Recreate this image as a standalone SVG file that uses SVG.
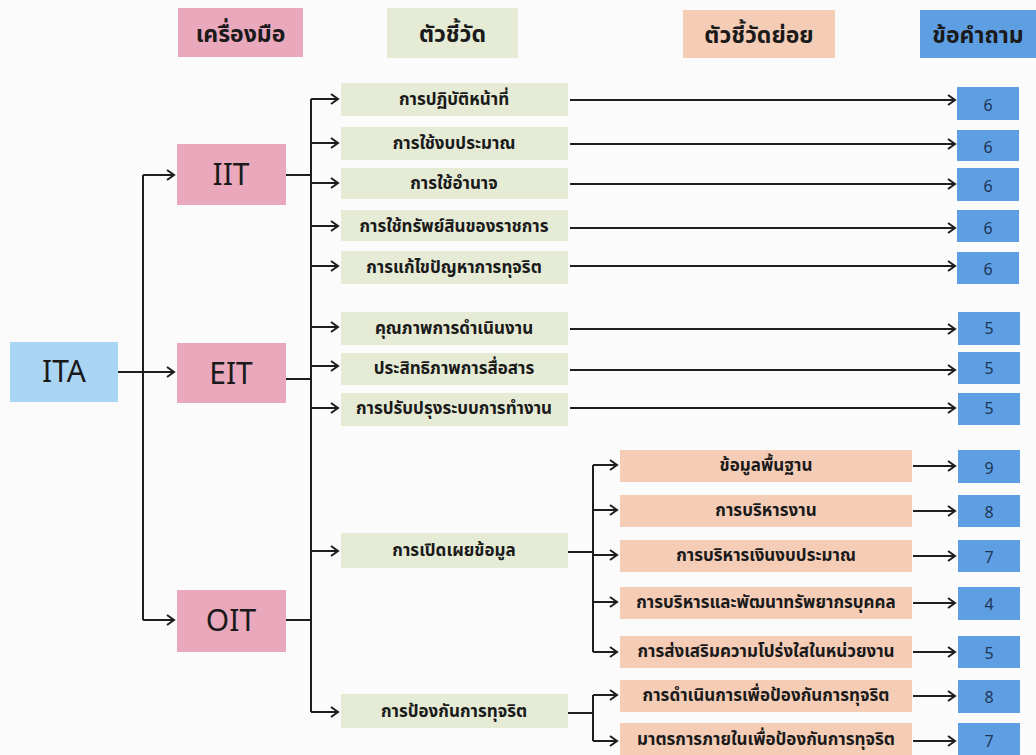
<svg xmlns="http://www.w3.org/2000/svg" width="1036" height="755" viewBox="0 0 1036 755">
<defs>
<marker id="arr" markerWidth="12" markerHeight="12" refX="10" refY="6" orient="auto" markerUnits="userSpaceOnUse">
<path d="M3,1 L10,6 L3,11" fill="none" stroke="#1e1e1e" stroke-width="2"/>
</marker>
</defs>
<style>
text{font-family:"Noto Sans Thai","Noto Sans","Liberation Sans",sans-serif;text-anchor:middle;dominant-baseline:central;fill:#1a1a1a}
.pink{fill:#eaa8bc}
.green{fill:#e5ebd4}
.peach{fill:#f5cdb6}
.blue{fill:#5e9fe3}
.ita{fill:#aad6f4}
.hdr{font-size:23px;font-weight:bold}
.tool{font-size:30px}
.lbl{font-size:17px;font-weight:bold}
.num{font-size:16px;fill:#1d3557}
.c{fill:none;stroke:#1e1e1e;stroke-width:2}
.a{fill:none;stroke:#1e1e1e;stroke-width:2;marker-end:url(#arr)}
</style>
<rect width="1036" height="755" fill="#fbfbfb"/>

<g id="headers">
<rect class="pink" x="178" y="8" width="125" height="49"/><text class="hdr" x="240.5" y="35">เครื่องมือ</text>
<rect class="green" x="387" y="8" width="131" height="50"/><text class="hdr" x="452.5" y="35">ตัวชี้วัด</text>
<rect class="peach" x="683" y="10" width="152" height="48"/><text class="hdr" x="759" y="36">ตัวชี้วัดย่อย</text>
<rect class="blue" x="920" y="10" width="116" height="48"/><text class="hdr" x="978" y="36">ข้อคำถาม</text>
</g>

<g id="connectors">
<line class="a" x1="118" y1="372" x2="174" y2="372"/>
<path class="c" d="M143,175 V620"/>
<line class="a" x1="143" y1="175" x2="174" y2="175"/>
<line class="a" x1="143" y1="620" x2="174" y2="620"/>
<line class="c" x1="286" y1="175" x2="311" y2="175"/>
<line class="c" x1="286" y1="379" x2="311" y2="379"/>
<line class="c" x1="286" y1="620" x2="311" y2="620"/>
<line class="c" x1="311" y1="99" x2="311" y2="712"/>
<line class="a" x1="311" y1="99" x2="338" y2="99"/>
<line class="a" x1="311" y1="143" x2="338" y2="143"/>
<line class="a" x1="311" y1="183" x2="338" y2="183"/>
<line class="a" x1="311" y1="226" x2="338" y2="226"/>
<line class="a" x1="311" y1="266" x2="338" y2="266"/>
<line class="a" x1="311" y1="327" x2="338" y2="327"/>
<line class="a" x1="311" y1="366" x2="338" y2="366"/>
<line class="a" x1="311" y1="408" x2="338" y2="408"/>
<line class="a" x1="311" y1="551" x2="338" y2="551"/>
<line class="a" x1="311" y1="712" x2="338" y2="712"/>
<line class="a" x1="570" y1="100" x2="955" y2="100"/>
<line class="a" x1="570" y1="144" x2="955" y2="144"/>
<line class="a" x1="570" y1="184" x2="955" y2="184"/>
<line class="a" x1="570" y1="228" x2="955" y2="228"/>
<line class="a" x1="570" y1="266" x2="955" y2="266"/>
<line class="a" x1="570" y1="329" x2="955" y2="329"/>
<line class="a" x1="570" y1="370" x2="955" y2="370"/>
<line class="a" x1="570" y1="408" x2="955" y2="408"/>
<line class="c" x1="568" y1="552" x2="593" y2="552"/>
<line class="c" x1="593" y1="465" x2="593" y2="652"/>
<line class="a" x1="593" y1="465" x2="617" y2="465"/>
<line class="a" x1="593" y1="510" x2="617" y2="510"/>
<line class="a" x1="593" y1="555" x2="617" y2="555"/>
<line class="a" x1="593" y1="602" x2="617" y2="602"/>
<line class="a" x1="593" y1="652" x2="617" y2="652"/>
<line class="c" x1="568" y1="713" x2="593" y2="713"/>
<line class="c" x1="593" y1="695" x2="593" y2="741"/>
<line class="a" x1="593" y1="695" x2="617" y2="695"/>
<line class="a" x1="593" y1="741" x2="617" y2="741"/>
<line class="a" x1="913" y1="466" x2="955" y2="466"/>
<line class="a" x1="913" y1="511" x2="955" y2="511"/>
<line class="a" x1="913" y1="556" x2="955" y2="556"/>
<line class="a" x1="913" y1="603" x2="955" y2="603"/>
<line class="a" x1="913" y1="652" x2="955" y2="652"/>
<line class="a" x1="913" y1="696" x2="955" y2="696"/>
<line class="a" x1="913" y1="741" x2="955" y2="741"/>
</g>

<g id="ITA"><rect class="ita" x="10" y="342" width="108" height="60"/><text class="tool" x="64" y="373">ITA</text></g>
<g id="IIT"><rect class="pink" x="177" y="144" width="109" height="61"/><text class="tool" x="231" y="176">IIT</text></g>
<g id="EIT"><rect class="pink" x="177" y="343" width="109" height="60"/><text class="tool" x="231" y="375">EIT</text></g>
<g id="OIT"><rect class="pink" x="177" y="590" width="109" height="62"/><text class="tool" x="231" y="622">OIT</text></g>

<g id="ind1"><rect class="green" x="341" y="83" width="227" height="33"/><text class="lbl" x="454" y="100">การปฏิบัติหน้าที่</text></g>
<g id="ind2"><rect class="green" x="341" y="127" width="227" height="33"/><text class="lbl" x="454" y="144">การใช้งบประมาณ</text></g>
<g id="ind3"><rect class="green" x="341" y="168" width="227" height="31"/><text class="lbl" x="454" y="184">การใช้อำนาจ</text></g>
<g id="ind4"><rect class="green" x="341" y="210" width="227" height="31"/><text class="lbl" x="454" y="227">การใช้ทรัพย์สินของราชการ</text></g>
<g id="ind5"><rect class="green" x="341" y="251" width="227" height="33"/><text class="lbl" x="454" y="268">การแก้ไขปัญหาการทุจริต</text></g>
<g id="ind6"><rect class="green" x="341" y="312" width="227" height="33"/><text class="lbl" x="454" y="329">คุณภาพการดำเนินงาน</text></g>
<g id="ind7"><rect class="green" x="341" y="353" width="227" height="32"/><text class="lbl" x="454" y="369">ประสิทธิภาพการสื่อสาร</text></g>
<g id="ind8"><rect class="green" x="341" y="393" width="227" height="33"/><text class="lbl" x="454" y="409">การปรับปรุงระบบการทำงาน</text></g>
<g id="ind9"><rect class="green" x="341" y="533" width="227" height="35"/><text class="lbl" x="454" y="551">การเปิดเผยข้อมูล</text></g>
<g id="ind10"><rect class="green" x="341" y="694" width="227" height="34"/><text class="lbl" x="454" y="712">การป้องกันการทุจริต</text></g>

<g id="sub1"><rect class="peach" x="620" y="450" width="292" height="32"/><text class="lbl" x="766" y="466">ข้อมูลพื้นฐาน</text></g>
<g id="sub2"><rect class="peach" x="620" y="495" width="292" height="32"/><text class="lbl" x="766" y="511">การบริหารงาน</text></g>
<g id="sub3"><rect class="peach" x="620" y="540" width="292" height="32"/><text class="lbl" x="766" y="556">การบริหารเงินงบประมาณ</text></g>
<g id="sub4"><rect class="peach" x="620" y="587" width="292" height="32"/><text class="lbl" x="766" y="603">การบริหารและพัฒนาทรัพยากรบุคคล</text></g>
<g id="sub5"><rect class="peach" x="620" y="636" width="292" height="32"/><text class="lbl" x="766" y="652">การส่งเสริมความโปร่งใสในหน่วยงาน</text></g>
<g id="sub6"><rect class="peach" x="620" y="680" width="292" height="32"/><text class="lbl" x="766" y="696">การดำเนินการเพื่อป้องกันการทุจริต</text></g>
<g id="sub7"><rect class="peach" x="620" y="723" width="292" height="32"/><text class="lbl" x="766" y="740">มาตรการภายในเพื่อป้องกันการทุจริต</text></g>

<g id="q1"><rect class="blue" x="957" y="87" width="62" height="33"/><text class="num" x="988" y="106">6</text></g>
<g id="q2"><rect class="blue" x="957" y="130" width="62" height="31"/><text class="num" x="988" y="148">6</text></g>
<g id="q3"><rect class="blue" x="957" y="168" width="62" height="33"/><text class="num" x="988" y="187">6</text></g>
<g id="q4"><rect class="blue" x="957" y="210" width="62" height="32"/><text class="num" x="988" y="229">6</text></g>
<g id="q5"><rect class="blue" x="957" y="252" width="62" height="32"/><text class="num" x="988" y="270">6</text></g>
<g id="q6"><rect class="blue" x="958" y="312" width="62" height="33"/><text class="num" x="989" y="329">5</text></g>
<g id="q7"><rect class="blue" x="958" y="352" width="62" height="32"/><text class="num" x="989" y="369">5</text></g>
<g id="q8"><rect class="blue" x="958" y="393" width="62" height="32"/><text class="num" x="989" y="409">5</text></g>
<g id="q9"><rect class="blue" x="958" y="450" width="62" height="33"/><text class="num" x="989" y="469">9</text></g>
<g id="q10"><rect class="blue" x="958" y="495" width="62" height="32"/><text class="num" x="989" y="513">8</text></g>
<g id="q11"><rect class="blue" x="958" y="540" width="62" height="32"/><text class="num" x="989" y="558">7</text></g>
<g id="q12"><rect class="blue" x="958" y="587" width="62" height="33"/><text class="num" x="989" y="605">4</text></g>
<g id="q13"><rect class="blue" x="958" y="636" width="62" height="32"/><text class="num" x="989" y="654">5</text></g>
<g id="q14"><rect class="blue" x="958" y="680" width="62" height="33"/><text class="num" x="989" y="698">8</text></g>
<g id="q15"><rect class="blue" x="958" y="723" width="62" height="32"/><text class="num" x="989" y="742">7</text></g>
</svg>
